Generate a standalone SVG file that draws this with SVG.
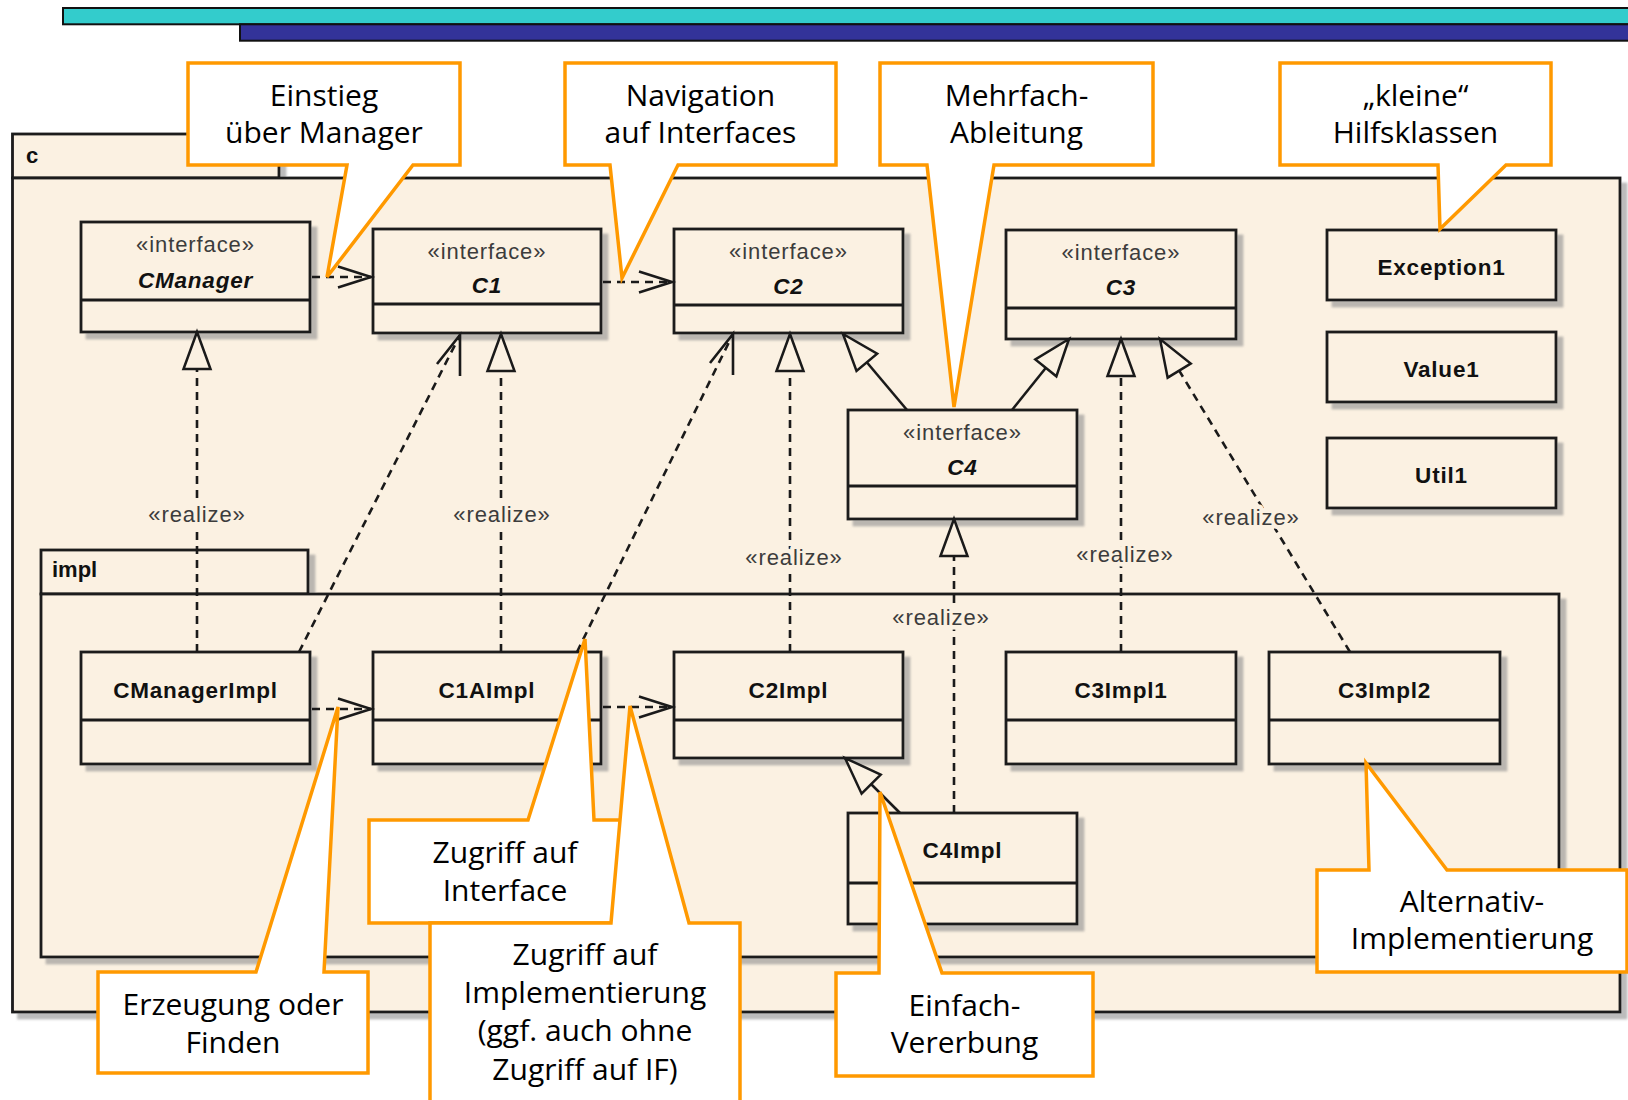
<svg xmlns="http://www.w3.org/2000/svg" width="1628" height="1100" viewBox="0 0 1628 1100">
  <defs>
    <style>
      .pkg { fill: #FBF1E2; stroke: #1a1a1a; stroke-width: 2.8; }
      .box { fill: #FBF1E2; stroke: #1a1a1a; stroke-width: 2.8; filter: url(#sh); }
      .sep { stroke: #1a1a1a; stroke-width: 2.8; }
      .st { font-family: "Liberation Sans", Arial, sans-serif; font-size: 22px; fill: #3c3c3c; letter-spacing: 0.9px; text-anchor: middle; }
      .nm { font-family: "Liberation Sans", Arial, sans-serif; font-size: 22.5px; font-weight: bold; fill: #111; letter-spacing: 0.8px; text-anchor: middle; }
      .it { font-style: italic; }
      .pl { font-family: "Liberation Sans", Arial, sans-serif; font-size: 22px; font-weight: bold; fill: #111; }
      .rl { font-family: "Liberation Sans", Arial, sans-serif; font-size: 22px; fill: #3c3c3c; letter-spacing: 0.9px; text-anchor: middle; stroke: #FBF1E2; stroke-width: 9px; stroke-linejoin: round; paint-order: stroke; }
      .dash { fill: none; stroke: #1a1a1a; stroke-width: 2.6; stroke-dasharray: 8 6; }
      .solid { fill: none; stroke: #1a1a1a; stroke-width: 2.6; }
      .co { fill: #ffffff; stroke: #FF9900; stroke-width: 3.5; stroke-linejoin: miter; }
      .ct { font-family: "Open Sans", "DejaVu Sans", sans-serif; font-size: 30px; fill: #000; text-anchor: middle; }
    </style>
    <filter id="sh" x="-5%" y="-5%" width="115%" height="120%">
      <feDropShadow dx="6" dy="6" stdDeviation="1.3" flood-color="#8f8f8f" flood-opacity="0.6"/>
    </filter>
    <!-- hollow triangle: realization / generalization -->
    <marker id="tri" markerUnits="userSpaceOnUse" orient="auto" refX="0" refY="0" markerWidth="60" markerHeight="60" overflow="visible">
      <path d="M0,0 L-37,-13.5 L-37,13.5 Z" fill="#FBF1E2" stroke="#1a1a1a" stroke-width="2.5"/>
    </marker>
    <!-- open arrow: dependency -->
    <marker id="open" markerUnits="userSpaceOnUse" orient="auto" refX="0" refY="0" markerWidth="60" markerHeight="60" overflow="visible">
      <path d="M-33,-10.5 L0,0 L-33,10.5" fill="none" stroke="#1a1a1a" stroke-width="2.6"/>
    </marker>
    <!-- open arrow for the steep dependencies -->
    <marker id="openSlant" markerUnits="userSpaceOnUse" orient="0" refX="0" refY="0" markerWidth="60" markerHeight="60" overflow="visible">
      <path d="M-23,29 L0,0 L0,41" fill="none" stroke="#1a1a1a" stroke-width="2.6"/>
    </marker>
  </defs>

  <rect width="1628" height="1100" fill="#ffffff"/>

  <!-- title bars -->
  <g id="header">
    <rect x="63" y="8" width="1580" height="16.3" fill="#33CCCC" stroke="#111" stroke-width="2"/>
    <rect x="240" y="24.3" width="1400" height="16.4" fill="#333399" stroke="#111" stroke-width="2"/>
  </g>

  <!-- package c -->
  <g id="pkg-c">
    <g filter="url(#sh)">
      <rect class="pkg" x="12.5" y="134" width="266.5" height="44"/>
      <rect class="pkg" x="12.5" y="178" width="1607.5" height="834"/>
    </g>
    <text class="pl" x="26" y="163">c</text>
  </g>

  <!-- package impl -->
  <g id="pkg-impl">
    <g filter="url(#sh)">
      <rect class="pkg" x="41" y="550" width="267" height="44"/>
      <rect class="pkg" x="41" y="594" width="1518" height="363"/>
    </g>
    <text class="pl" x="52" y="577">impl</text>
  </g>

  <!-- interfaces -->
  <g id="CManager">
    <rect class="box" x="81" y="222" width="229" height="110"/>
    <line class="sep" x1="81" y1="300" x2="310" y2="300"/>
    <text class="st" x="195.5" y="252">«interface»</text>
    <text class="nm it" x="195.5" y="288">CManager</text>
  </g>
  <g id="C1">
    <rect class="box" x="373" y="229" width="228" height="104"/>
    <line class="sep" x1="373" y1="304" x2="601" y2="304"/>
    <text class="st" x="487" y="259">«interface»</text>
    <text class="nm it" x="487" y="293">C1</text>
  </g>
  <g id="C2">
    <rect class="box" x="674" y="229" width="229" height="104"/>
    <line class="sep" x1="674" y1="305" x2="903" y2="305"/>
    <text class="st" x="788.5" y="259">«interface»</text>
    <text class="nm it" x="788.5" y="294">C2</text>
  </g>
  <g id="C3">
    <rect class="box" x="1006" y="230" width="230" height="109"/>
    <line class="sep" x1="1006" y1="308" x2="1236" y2="308"/>
    <text class="st" x="1121" y="260">«interface»</text>
    <text class="nm it" x="1121" y="295">C3</text>
  </g>
  <g id="C4">
    <rect class="box" x="848" y="410" width="229" height="109"/>
    <line class="sep" x1="848" y1="486" x2="1077" y2="486"/>
    <text class="st" x="962.5" y="440">«interface»</text>
    <text class="nm it" x="962.5" y="475">C4</text>
  </g>

  <!-- helper classes -->
  <g id="Exception1">
    <rect class="box" x="1327" y="230" width="229" height="70"/>
    <text class="nm" x="1441.5" y="275">Exception1</text>
  </g>
  <g id="Value1">
    <rect class="box" x="1327" y="332" width="229" height="70"/>
    <text class="nm" x="1441.5" y="377">Value1</text>
  </g>
  <g id="Util1">
    <rect class="box" x="1327" y="438" width="229" height="70"/>
    <text class="nm" x="1441.5" y="483">Util1</text>
  </g>

  <!-- implementations -->
  <g id="CManagerImpl">
    <rect class="box" x="81" y="652" width="229" height="112"/>
    <line class="sep" x1="81" y1="720" x2="310" y2="720"/>
    <text class="nm" x="195.5" y="698">CManagerImpl</text>
  </g>
  <g id="C1AImpl">
    <rect class="box" x="373" y="652" width="228" height="112"/>
    <line class="sep" x1="373" y1="720" x2="601" y2="720"/>
    <text class="nm" x="487" y="698">C1AImpl</text>
  </g>
  <g id="C2Impl">
    <rect class="box" x="674" y="652" width="229" height="106"/>
    <line class="sep" x1="674" y1="720" x2="903" y2="720"/>
    <text class="nm" x="788.5" y="698">C2Impl</text>
  </g>
  <g id="C3Impl1">
    <rect class="box" x="1006" y="652" width="230" height="112"/>
    <line class="sep" x1="1006" y1="720" x2="1236" y2="720"/>
    <text class="nm" x="1121" y="698">C3Impl1</text>
  </g>
  <g id="C3Impl2">
    <rect class="box" x="1269" y="652" width="231" height="112"/>
    <line class="sep" x1="1269" y1="720" x2="1500" y2="720"/>
    <text class="nm" x="1384.5" y="698">C3Impl2</text>
  </g>
  <g id="C4Impl">
    <rect class="box" x="848" y="813" width="229" height="111"/>
    <line class="sep" x1="848" y1="883" x2="1077" y2="883"/>
    <text class="nm" x="962.5" y="858">C4Impl</text>
  </g>

  <!-- relationships -->
  <g id="connectors">
    <!-- dependencies -->
    <path class="dash" d="M312,277 H371" marker-end="url(#open)"/>
    <path class="dash" d="M603,282 H672" marker-end="url(#open)"/>
    <path class="dash" d="M312,709 H371" marker-end="url(#open)"/>
    <path class="dash" d="M603,707 H672" marker-end="url(#open)"/>
    <path class="dash" d="M299,652 L460,335" marker-end="url(#openSlant)"/>
    <path class="dash" d="M577,652 L733,334" marker-end="url(#openSlant)"/>
    <!-- realizations -->
    <path class="dash" d="M197,652 V332" marker-end="url(#tri)"/>
    <path class="dash" d="M501,652 V334" marker-end="url(#tri)"/>
    <path class="dash" d="M790,652 V334" marker-end="url(#tri)"/>
    <path class="dash" d="M1121,652 V339" marker-end="url(#tri)"/>
    <path class="dash" d="M1350,652 L1160,339" marker-end="url(#tri)"/>
    <path class="dash" d="M954,813 V519" marker-end="url(#tri)"/>
    <!-- generalizations -->
    <path class="solid" d="M907,410 L843,334" marker-end="url(#tri)"/>
    <path class="solid" d="M1012,410 L1069,339" marker-end="url(#tri)"/>
    <path class="solid" d="M900,813 L845,758" marker-end="url(#tri)"/>
    <!-- stereotype labels -->
    <text class="rl" x="197" y="522">«realize»</text>
    <text class="rl" x="502" y="522">«realize»</text>
    <text class="rl" x="794" y="565">«realize»</text>
    <text class="rl" x="941" y="625">«realize»</text>
    <text class="rl" x="1125" y="562">«realize»</text>
    <text class="rl" x="1251" y="525">«realize»</text>
  </g>

  <!-- annotations -->
  <g id="note-einstieg">
    <path class="co" d="M188,63 H460 V165 H413 L327,277 L347,165 H188 Z"/>
    <text class="ct" x="324" y="106">Einstieg</text>
    <text class="ct" x="324" y="143">über Manager</text>
  </g>
  <g id="note-navigation">
    <path class="co" d="M565,63 H836 V165 H678 L622,278 L610,165 H565 Z"/>
    <text class="ct" x="700.5" y="106">Navigation</text>
    <text class="ct" x="700.5" y="143">auf Interfaces</text>
  </g>
  <g id="note-mehrfach">
    <path class="co" d="M880,63 H1153 V165 H994 L954,407 L927,165 H880 Z"/>
    <text class="ct" x="1016.5" y="106">Mehrfach-</text>
    <text class="ct" x="1016.5" y="143">Ableitung</text>
  </g>
  <g id="note-hilfsklassen">
    <path class="co" d="M1280,63 H1551 V165 H1506 L1440,229 L1438,165 H1280 Z"/>
    <text class="ct" x="1415.5" y="106">„kleine“</text>
    <text class="ct" x="1415.5" y="143">Hilfsklassen</text>
  </g>
  <g id="note-erzeugung">
    <path class="co" d="M98,972 H256 L338,707 L324,972 H368 V1073 H98 Z"/>
    <text class="ct" x="233" y="1015">Erzeugung oder</text>
    <text class="ct" x="233" y="1053">Finden</text>
  </g>
  <g id="note-zugriff-interface">
    <path class="co" d="M369,820 H528 L585,639 L594,820 H641 V923 H369 Z"/>
    <text class="ct" x="505" y="863">Zugriff auf</text>
    <text class="ct" x="505" y="901">Interface</text>
  </g>
  <g id="note-zugriff-impl">
    <path class="co" d="M430,923 H611 L630,706 L689,923 H740 V1112 H430 Z"/>
    <text class="ct" x="585" y="965">Zugriff auf</text>
    <text class="ct" x="585" y="1003">Implementierung</text>
    <text class="ct" x="585" y="1041">(ggf. auch ohne</text>
    <text class="ct" x="585" y="1080">Zugriff auf IF)</text>
  </g>
  <g id="note-einfach">
    <path class="co" d="M836,973 H879 L880,792 L942,973 H1093 V1076 H836 Z"/>
    <text class="ct" x="964.5" y="1016">Einfach-</text>
    <text class="ct" x="964.5" y="1053">Vererbung</text>
  </g>
  <g id="note-alternativ">
    <path class="co" d="M1317,870 H1369 L1366,763 L1447,870 H1627 V972 H1317 Z"/>
    <text class="ct" x="1472" y="912">Alternativ-</text>
    <text class="ct" x="1472" y="949">Implementierung</text>
  </g>
</svg>
